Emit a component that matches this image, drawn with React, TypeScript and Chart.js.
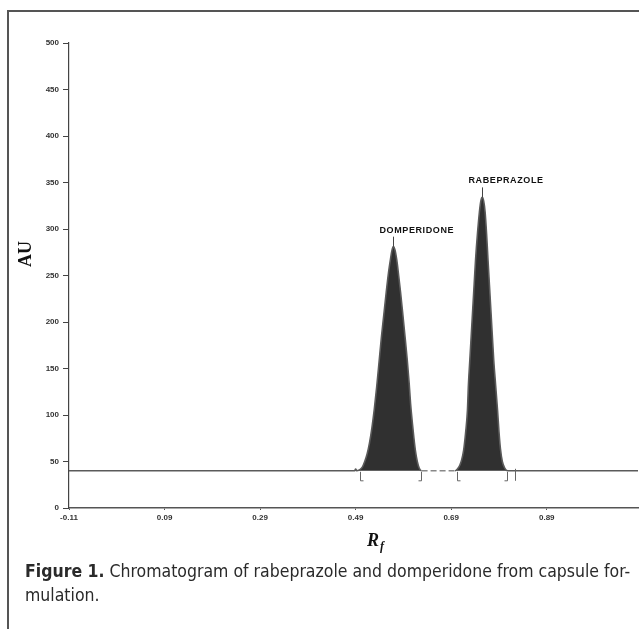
import React, { useEffect, useRef } from "react";
import { Chart, registerables } from "chart.js";

Chart.register(...registerables);

// ---- data ----
const rfTicks = [-0.11, 0.09, 0.29, 0.49, 0.69, 0.89];
const auTicks = [0, 50, 100, 150, 200, 250, 300, 350, 400, 450, 500];
const rfMin = -0.11;
const rfMax = 1.081;
const baselineAU = 40;

const domperidoneRf = [0.488, 0.49, 0.492, 0.498, 0.504, 0.509, 0.514, 0.519, 0.524, 0.529, 0.534, 0.539, 0.544, 0.549, 0.554, 0.559, 0.563, 0.566, 0.569, 0.572, 0.576, 0.58, 0.584, 0.588, 0.593, 0.598, 0.602, 0.605, 0.609, 0.612, 0.615, 0.619, 0.623, 0.628];
const domperidoneAU = [40, 42, 40, 41, 44, 50, 58, 70, 86, 106, 130, 157, 184, 208, 232, 254, 268, 277, 281, 278, 267, 250, 232, 212, 186, 159, 134, 112, 90, 75, 62, 50, 43, 40];

const rabeprazoleRf = [0.698, 0.703, 0.708, 0.712, 0.716, 0.72, 0.724, 0.726, 0.729, 0.732, 0.735, 0.738, 0.741, 0.745, 0.749, 0.752, 0.755, 0.758, 0.761, 0.764, 0.767, 0.77, 0.773, 0.776, 0.779, 0.783, 0.787, 0.79, 0.793, 0.797, 0.802, 0.808];
const rabeprazoleAU = [40, 42, 46, 52, 62, 80, 105, 132, 159, 186, 213, 240, 267, 295, 318, 330, 334, 330, 318, 295, 267, 240, 213, 186, 159, 132, 105, 82, 64, 50, 43, 40];

const peakNames = ["DOMPERIDONE", "RABEPRAZOLE"];
const peakRf = [0.569, 0.755];
const peakAU = [281, 334];

const bracketStarts = [0.5, 0.703];
const bracketEnds = [0.626, 0.807];
const extraMarks = [0.824];

export default function App() {
  const ref = useRef<HTMLCanvasElement>(null);

  useEffect(() => {
    if (!ref.current) return;
    const trace: { x: number; y: number }[] = [];
    trace.push({ x: rfMin, y: baselineAU });
    domperidoneRf.forEach((v, i) => trace.push({ x: v, y: domperidoneAU[i] }));
    rabeprazoleRf.forEach((v, i) => trace.push({ x: v, y: rabeprazoleAU[i] }));
    trace.push({ x: rfMax, y: baselineAU });

    const gapStart = domperidoneRf[domperidoneRf.length - 1];
    const gapEnd = rabeprazoleRf[0];

    const annot = {
      id: "annot",
      afterDatasetsDraw(chart: any) {
        const { ctx } = chart;
        const xs = chart.scales.x;
        const ys = chart.scales.y;
        ctx.save();
        const yb = ys.getPixelForValue(baselineAU);
        ctx.strokeStyle = "#666";
        ctx.lineWidth = 1;
        bracketStarts.forEach((v) => {
          const px = Math.round(xs.getPixelForValue(v)) + 0.5;
          ctx.beginPath();
          ctx.moveTo(px, yb + 1);
          ctx.lineTo(px, yb + 10);
          ctx.lineTo(px + 3, yb + 10);
          ctx.stroke();
        });
        bracketEnds.forEach((v) => {
          const px = Math.round(xs.getPixelForValue(v)) + 0.5;
          ctx.beginPath();
          ctx.moveTo(px, yb + 1);
          ctx.lineTo(px, yb + 10);
          ctx.lineTo(px - 3, yb + 10);
          ctx.stroke();
        });
        extraMarks.forEach((v) => {
          const px = Math.round(xs.getPixelForValue(v)) + 0.5;
          ctx.beginPath();
          ctx.moveTo(px, yb - 2);
          ctx.lineTo(px, yb + 10);
          ctx.stroke();
        });

        // peak labels
        ctx.fillStyle = "#111";
        ctx.strokeStyle = "#444";
        ctx.font = 'bold 9px "Liberation Sans", Arial, sans-serif';
        (ctx as any).letterSpacing = "0.6px";
        ctx.textAlign = "left";
        ctx.textBaseline = "alphabetic";
        peakNames.forEach((name, i) => {
          const px = Math.round(xs.getPixelForValue(peakRf[i])) + 0.5;
          const py = ys.getPixelForValue(peakAU[i]);
          ctx.beginPath();
          ctx.moveTo(px, py);
          ctx.lineTo(px, py - 10);
          ctx.stroke();
          ctx.fillText(name, px - 14, py - 14);
        });
        (ctx as any).letterSpacing = "0px";

        // axis titles
        ctx.fillStyle = "#111";
        ctx.font = 'bold 18px "Liberation Serif", "Times New Roman", serif';
        ctx.textAlign = "center";
        ctx.textBaseline = "middle";
        ctx.save();
        ctx.translate(26, 254);
        ctx.rotate(-Math.PI / 2);
        ctx.fillText("AU", 0, 0);
        ctx.restore();

        ctx.font = 'bold italic 18px "Liberation Serif", "Times New Roman", serif';
        ctx.textAlign = "left";
        ctx.textBaseline = "alphabetic";
        const rx = 367;
        const ry = 546;
        ctx.fillText("R", rx, ry);
        const rw = ctx.measureText("R").width;
        ctx.font = 'bold italic 12px "Liberation Serif", "Times New Roman", serif';
        ctx.fillText("f", rx + rw + 1, ry + 4);
        ctx.restore();
      },
    };

    const chart = new Chart(ref.current, {
      type: "line",
      data: {
        datasets: [
          {
            data: trace,
            borderColor: "#5a5a5a",
            borderWidth: 1.6,
            backgroundColor: "#303030",
            fill: { value: baselineAU },
            pointRadius: 0,
            cubicInterpolationMode: "monotone",
            segment: {
              borderDash: (c: any) =>
                c.p0.parsed.x >= gapStart && c.p1.parsed.x <= gapEnd ? [6, 3] : undefined,
              borderColor: (c: any) =>
                c.p0.parsed.x >= gapStart && c.p1.parsed.x <= gapEnd ? "#888" : undefined,
            },
          },
        ],
      },
      options: {
        responsive: false,
        animation: false,
        layout: { padding: { left: 0, top: 43, right: 1, bottom: 0 } },
        plugins: { legend: { display: false }, tooltip: { enabled: false }, title: { display: false } },
        scales: {
          x: {
            type: "linear",
            min: rfMin,
            max: rfMax,
            afterBuildTicks: (s: any) => {
              s.ticks = rfTicks.map((v) => ({ value: v }));
            },
            afterFit: (s: any) => {
              s.height = 121;
            },
            grid: { drawOnChartArea: false, drawTicks: true, tickLength: 2, color: "#555" },
            border: { display: true, color: "#555", width: 1.6 },
            ticks: {
              autoSkip: false,
              maxRotation: 0,
              padding: 3,
              color: "#333",
              font: { family: '"Liberation Sans", Arial, sans-serif', size: 8, weight: "bold" },
              callback: (v: any) => Number(v).toFixed(2),
            },
          },
          y: {
            type: "linear",
            min: 0,
            max: 500,
            afterBuildTicks: (s: any) => {
              s.ticks = auTicks.map((v) => ({ value: v }));
            },
            afterFit: (s: any) => {
              s.width = 69;
            },
            grid: { drawOnChartArea: false, drawTicks: true, tickLength: 6, color: "#444" },
            border: { display: true, color: "#444", width: 1.2 },
            ticks: {
              autoSkip: false,
              padding: 4,
              color: "#333",
              font: { family: '"Liberation Sans", Arial, sans-serif', size: 8, weight: "bold" },
            },
          },
        },
      },
      plugins: [annot],
    });
    return () => chart.destroy();
  }, []);

  return (
    <div style={{ position: "absolute", left: 0, top: 0, width: 639, height: 629, background: "#fff", overflow: "hidden" }}>
      <canvas ref={ref} width={639} height={629} style={{ position: "absolute", left: 0, top: 0 }} />
      <div
        style={{
          position: "absolute",
          left: 7,
          top: 10,
          width: 640,
          height: 630,
          borderTop: "2px solid #555",
          borderLeft: "2px solid #555",
          pointerEvents: "none",
        }}
      />
      <div
        style={{
          position: "absolute",
          left: 25,
          top: 559,
          fontFamily: '"Liberation Sans Narrow", "DejaVu Sans Condensed", "Open Sans", sans-serif',
          fontStretch: "condensed",
          fontSize: 17.5,
          lineHeight: "24px",
          color: "#2a2a2a",
          whiteSpace: "nowrap",
        }}
      >
        <span style={{ fontWeight: "bold" }}>Figure 1.</span> Chromatogram of rabeprazole and domperidone from capsule for-
        <br />
        mulation.
      </div>
    </div>
  );
}
